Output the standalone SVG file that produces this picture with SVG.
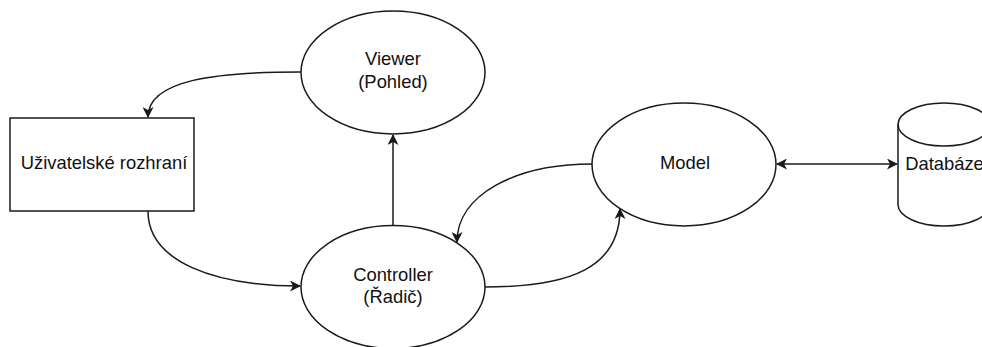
<svg xmlns="http://www.w3.org/2000/svg" width="982" height="347" viewBox="0 0 982 347">
  <style>
    .shape { fill: #ffffff; stroke: #1a1a1a; stroke-width: 1.5; }
    .edge { fill: none; stroke: #1a1a1a; stroke-width: 1.5; }
    .label { font-family: "Liberation Sans", Arial, sans-serif; font-size: 18.4px; fill: #111111; text-anchor: middle; }
  </style>
  <defs>
    <marker id="arrow" viewBox="0 0 11 11" refX="10" refY="5.5" markerWidth="11" markerHeight="11" markerUnits="userSpaceOnUse" orient="auto-start-reverse">
      <path d="M0,0 L11,5.5 L0,11 L3,5.5 Z" fill="#1a1a1a"/>
    </marker>
  </defs>
  <rect width="982" height="347" fill="#ffffff"/>

  <!-- connectors -->
  <g id="edges">
    <path class="edge" d="M301,72 C215,72 148,80 148,117" marker-end="url(#arrow)"/>
    <path class="edge" d="M148,211 C148,262 215,286 300,286" marker-end="url(#arrow)"/>
    <path class="edge" d="M393,225 L393,135" marker-end="url(#arrow)"/>
    <path class="edge" d="M592,164 C515,164 457,195 457,242" marker-end="url(#arrow)"/>
    <path class="edge" d="M485,287 C570,287 620,268 620,209" marker-end="url(#arrow)"/>
    <path class="edge" d="M777,164 L897,164" marker-start="url(#arrow)" marker-end="url(#arrow)"/>
  </g>

  <g id="node-ui">
    <rect class="shape" x="10" y="118" width="184" height="93"/>
    <text class="label" x="104" y="169">Uživatelské rozhraní</text>
  </g>

  <g id="node-viewer">
    <ellipse class="shape" cx="393" cy="72.5" rx="92" ry="61.5"/>
    <text class="label" x="393" y="65">Viewer</text>
    <text class="label" x="393" y="88">(Pohled)</text>
  </g>

  <g id="node-controller">
    <ellipse class="shape" cx="393" cy="287" rx="92" ry="61.5"/>
    <text class="label" x="393" y="281">Controller</text>
    <text class="label" x="393" y="303">(Řadič)</text>
  </g>

  <g id="node-model">
    <ellipse class="shape" cx="684" cy="164.5" rx="92" ry="61.5"/>
    <text class="label" x="685" y="169">Model</text>
  </g>

  <g id="node-database">
    <path class="shape" d="M898,124.5 A46,21.5 0 0 1 990,124.5 L990,204.5 A46,21.5 0 0 1 898,204.5 Z"/>
    <path class="edge" d="M898,124.5 A46,21.5 0 0 0 990,124.5"/>
    <text class="label" x="944.5" y="170">Databáze</text>
  </g>
</svg>
